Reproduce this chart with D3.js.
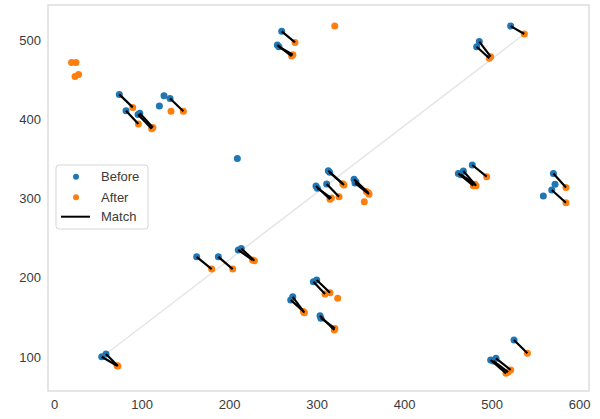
<!DOCTYPE html>
<html>
<head>
<meta charset="utf-8">
<script src="https://cdn.jsdelivr.net/npm/d3@7"></script>
<style>
  body { margin: 0; background: #fff; }
  text { font-family: "Liberation Sans", Arial, sans-serif; }
</style>
</head>
<body>
<div id="chart-container"></div>
<script>
// matched points: before -> after
const beforeX = [54.5, 59.4, 74.6, 82.3, 96, 98, 132.6, 163, 187.8, 210.6, 214, 260.2, 255.2, 257, 272.8, 270.5, 296.4, 300.2, 304, 305, 299.4, 301, 311.6, 313.5, 315, 342.9, 345, 344, 462.1, 467.8, 465, 478, 483, 486, 521.9, 499, 505.1, 502, 525.7, 570.7, 568.8];
const beforeY = [100.4, 103.8, 431.4, 410.8, 406, 407.5, 426.3, 226.4, 226.4, 235, 237, 511, 493.7, 491.5, 176, 172, 195, 197.2, 152.1, 149, 315.8, 313, 318.3, 335, 333, 324.2, 321, 319.5, 331.7, 334.7, 330, 342.3, 491.5, 498, 517.6, 96.2, 98.3, 95, 121.5, 331.7, 310.7];
const afterX = [72, 73, 90, 96.4, 111.6, 113, 147.8, 180.2, 204.2, 227, 229, 275.4, 271.6, 273, 286.1, 285, 309.7, 315.4, 320.3, 321, 315.4, 317, 325.7, 331.4, 330, 359.2, 357, 360, 479.2, 482.3, 481, 494.5, 497.5, 499, 537.5, 516.6, 521.9, 519, 541, 585.1, 585.1];
const afterY = [89, 88.6, 415, 394, 388, 389.5, 410.2, 211, 211, 222.4, 221.5, 497, 479.8, 481.5, 155.9, 157.5, 179.5, 181.1, 134, 136, 299, 300.5, 302.3, 317, 318.5, 307.3, 309, 305.5, 316.2, 316.2, 318, 327.5, 477, 479, 507.6, 79.4, 83.6, 81, 104.7, 314, 294.7];

// points without a partner
const loneBeforeX = [120.4, 125.7, 209.5, 572.6, 559.2];
const loneBeforeY = [416.7, 429.7, 350.6, 317.9, 303.2];
const loneAfterX = [20, 25, 24, 28, 133.7, 320.8, 354.6, 324.2];
const loneAfterY = [471.5, 471.5, 454, 456.5, 410.2, 517.6, 296, 174];

// faint guide line
const guideX = [59.4, 537.5];
const guideY = [103.8, 507.6];

const xTicks = [0, 100, 200, 300, 400, 500, 600];
const yTicks = [100, 200, 300, 400, 500];
const legendLabels = ['Before', 'After', 'Match'];

const blue = '#1f77b4';
const orange = '#ff7f0e';

const svg = d3.select('#chart-container')
  .append('svg')
  .attr('width', 600)
  .attr('height', 419);

const x = d3.scaleLinear().domain([-6.9, 611.4]).range([48, 589]);
const y = d3.scaleLinear().domain([57.1, 544.2]).range([391, 5]);

// frame
svg.append('rect')
  .attr('x', 48).attr('y', 5)
  .attr('width', 541).attr('height', 386)
  .attr('fill', 'none')
  .attr('stroke', '#d6d6d6')
  .attr('stroke-width', 1.25);

// axes, no tick marks
const xAxis = svg.append('g')
  .attr('transform', 'translate(0,391)')
  .call(d3.axisBottom(x).tickValues(xTicks).tickSize(0).tickPadding(9));
const yAxis = svg.append('g')
  .attr('transform', 'translate(48,0)')
  .call(d3.axisLeft(y).tickValues(yTicks).tickSize(0).tickPadding(7));
[xAxis, yAxis].forEach(g => {
  g.select('.domain').remove();
  g.selectAll('text')
    .style('font-family', '"Liberation Sans", Arial, sans-serif')
    .style('font-size', '13px')
    .attr('fill', '#3a3a3a');
});

svg.append('line')
  .attr('x1', x(guideX[0])).attr('y1', y(guideY[0]))
  .attr('x2', x(guideX[1])).attr('y2', y(guideY[1]))
  .attr('stroke', '#e6e6e6')
  .attr('stroke-width', 1.5);

const pairs = beforeX.map((bx, i) => ({ bx, by: beforeY[i], ax: afterX[i], ay: afterY[i] }));

const beforePts = pairs.map(p => [p.bx, p.by])
  .concat(loneBeforeX.map((v, i) => [v, loneBeforeY[i]]));
const afterPts = pairs.map(p => [p.ax, p.ay])
  .concat(loneAfterX.map((v, i) => [v, loneAfterY[i]]));

svg.selectAll('.before')
  .data(beforePts)
  .enter().append('circle')
  .attr('class', 'before')
  .attr('cx', d => x(d[0]))
  .attr('cy', d => y(d[1]))
  .attr('r', 3.5)
  .attr('fill', blue);

svg.selectAll('.after')
  .data(afterPts)
  .enter().append('circle')
  .attr('class', 'after')
  .attr('cx', d => x(d[0]))
  .attr('cy', d => y(d[1]))
  .attr('r', 3.5)
  .attr('fill', orange);

svg.selectAll('.match')
  .data(pairs)
  .enter().append('line')
  .attr('class', 'match')
  .attr('x1', d => x(d.bx)).attr('y1', d => y(d.by))
  .attr('x2', d => x(d.ax)).attr('y2', d => y(d.ay))
  .attr('stroke', '#000')
  .attr('stroke-width', 2.2);

// legend
const legend = svg.append('g').attr('transform', 'translate(56,165)');
legend.append('rect')
  .attr('width', 92).attr('height', 64)
  .attr('rx', 3)
  .attr('fill', '#fff').attr('fill-opacity', 0.8)
  .attr('stroke', '#d6d6d6');

const rows = [11.7, 32.3, 51.7];
legend.append('circle').attr('cx', 20).attr('cy', rows[0]).attr('r', 3).attr('fill', blue);
legend.append('circle').attr('cx', 20).attr('cy', rows[1]).attr('r', 3).attr('fill', orange);
legend.append('line')
  .attr('x1', 5).attr('x2', 34)
  .attr('y1', rows[2]).attr('y2', rows[2])
  .attr('stroke', '#000').attr('stroke-width', 2);

legend.selectAll('.legend-label')
  .data(legendLabels)
  .enter().append('text')
  .attr('class', 'legend-label')
  .attr('x', 45)
  .attr('y', (d, i) => rows[i])
  .attr('dy', '0.35em')
  .style('font-size', '13px')
  .attr('fill', '#3a3a3a')
  .text(d => d);
</script>
</body>
</html>
